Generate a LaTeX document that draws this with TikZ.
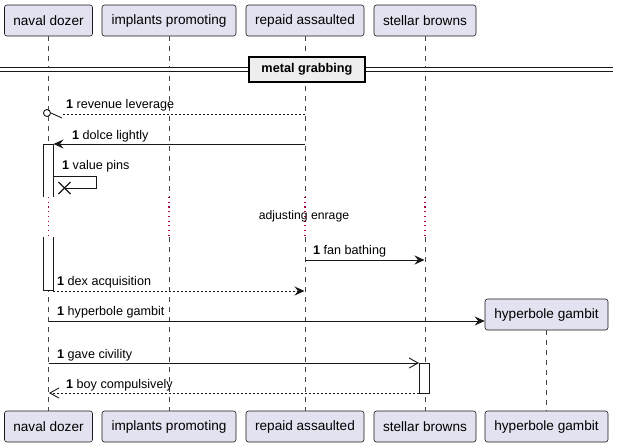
\documentclass[tikz,border=0pt]{standalone}
\usepackage{fontspec}
\setmainfont{Liberation Sans}
\usetikzlibrary{arrows.meta}
\definecolor{partfill}{RGB}{226,226,240}
\definecolor{partline}{RGB}{24,24,24}
\definecolor{delaydot}{RGB}{176,0,80}
\definecolor{divfill}{RGB}{238,238,238}

\begin{document}
\begin{tikzpicture}[x=1pt,y=-1pt,
  part/.style={draw=partline,fill=partfill,rounded corners=2.5pt,minimum height=31pt,inner sep=0pt,line width=0.6pt,font=\fontsize{13.6}{16}\selectfont},
  life/.style={partline!80,line width=0.5pt,dash pattern=on 5pt off 5pt},
  delayline/.style={delaydot,line width=1.2pt,dash pattern=on 1.2pt off 3.5pt},
  msg/.style={partline,line width=0.9pt},
  reply/.style={msg,dash pattern=on 2pt off 2pt},
  lbl/.style={anchor=west,inner sep=0pt,text height=9pt,text depth=3pt,font=\fontsize{12.6}{15}\selectfont},
  full/.style={-{Stealth[length=10pt,width=9pt,inset=3.5pt]}},
  thin/.style={-{Straight Barb[length=9pt,width=10pt]}},
  actbox/.style={draw=partline,line width=0.9pt}]
\useasboundingbox (0,0) rectangle (619,447);

\node[part,minimum width=88pt] (nd) at (48.5,20.5) {naval dozer};
\node[part,minimum width=134pt] (ip) at (169,20.5) {implants promoting};
\node[part,minimum width=118pt] (ra) at (305,20.5) {repaid assaulted};
\node[part,minimum width=102pt] (sb) at (425,20.5) {stellar browns};
\node[part,minimum width=88pt] (ndb) at (48.5,426.5) {naval dozer};
\node[part,minimum width=134pt] (ipb) at (169,426.5) {implants promoting};
\node[part,minimum width=118pt] (rab) at (305,426.5) {repaid assaulted};
\node[part,minimum width=102pt] (sbb) at (425,426.5) {stellar browns};
\node[part,minimum width=123pt] (hg) at (546.5,314.5) {hyperbole gambit};
\node[part,minimum width=123pt] (hgb) at (546.5,426.5) {hyperbole gambit};

\coordinate (d1) at (0,197);
\coordinate (d2) at (0,237);
\draw[life] (nd.south) -- (nd.south |- d1);
\draw[delayline] (nd.south |- d1) -- (nd.south |- d2);
\draw[life] (nd.south |- d2) -- (ndb.north);
\draw[life] (ip.south) -- (ip.south |- d1);
\draw[delayline] (ip.south |- d1) -- (ip.south |- d2);
\draw[life] (ip.south |- d2) -- (ipb.north);
\draw[life] (ra.south) -- (ra.south |- d1);
\draw[delayline] (ra.south |- d1) -- (ra.south |- d2);
\draw[life] (ra.south |- d2) -- (rab.north);
\draw[life] (sb.south) -- (sb.south |- d1);
\draw[delayline] (sb.south |- d1) -- (sb.south |- d2);
\draw[life] (sb.south |- d2) -- (sbb.north);
\draw[life] (hg.south) -- (hgb.north);
\node[font=\fontsize{12.2}{14}\selectfont] (delaytxt) at (304,216) {adjusting enrage};

\coordinate (divl) at (0,69.5);
\coordinate (divr) at (613,69.5);
\draw[partline,line width=0.9pt,double distance=2.4pt] (divl) -- (divr);
\node[draw=black,fill=divfill,line width=1.6pt,minimum width=116pt,minimum height=25pt,inner sep=0pt,font=\bfseries\fontsize{12.7}{15}\selectfont] (grp) at (307,69.5) {metal grabbing};

\coordinate (m1s) at (305,114);
\coordinate (m1e) at (63,114);
\draw[reply] (m1s) -- (m1e);
\node[circle,draw=partline,line width=0.9pt,minimum size=7pt,inner sep=0pt] (m1o) at (47,113) {};
\draw[msg] (m1o.east) -- (62,118);
\node[lbl] (l1) at (66,105) {\textbf{1} revenue leverage};

\fill[white] (43,144) rectangle (53,197);
\draw[actbox] (43,197) |- (53,144) -- (53,197);
\fill[white] (43,237) rectangle (53,290);
\draw[actbox] (43,237) |- (53,290) -- (53,237);

\coordinate (m2s) at (305,144);
\coordinate (m2e) at (53.5,144);
\draw[msg,full] (m2s) -- (m2e);
\node[lbl] (l2) at (72,136) {\textbf{1} dolce lightly};

\coordinate (m3s) at (53,176);
\coordinate (m3e) at (64.5,188);
\draw[msg] (m3s) -- (96,176) -- (96,188) -- (m3e);
\draw[msg,line width=1.4pt] (m3e) ++(-6,-6) -- ++(12,12) (m3e) ++(-6,6) -- ++(12,-12);
\node[lbl] (l3) at (62,166) {\textbf{1} value pins};

\coordinate (m4s) at (305,260);
\coordinate (m4e) at (424.5,260);
\draw[msg,full] (m4s) -- (m4e);
\node[lbl] (l4) at (313,251) {\textbf{1} fan bathing};

\coordinate (m5s) at (53,291);
\coordinate (m5e) at (304.5,291);
\draw[reply,full] (m5s) -- (m5e);
\node[lbl] (l5) at (57,282) {\textbf{1} dex acquisition};

\coordinate (m6s) at (48.5,321);
\draw[msg,full] (m6s) -- (m6s -| hg.west);
\node[lbl] (l6) at (57,312) {\textbf{1} hyperbole gambit};

\coordinate (m7s) at (48.5,363);
\coordinate (m7e) at (419,363);
\draw[msg,thin] (m7s) -- (m7e);
\node[lbl] (l7) at (57,355) {\textbf{1} gave civility};

\filldraw[actbox,fill=white] (419,363) rectangle (429,393);

\coordinate (m8s) at (419,393);
\coordinate (m8e) at (49,393);
\draw[reply,thin] (m8s) -- (m8e);
\node[lbl] (l8) at (66,385) {\textbf{1} boy compulsively};
\end{tikzpicture}
\end{document}
